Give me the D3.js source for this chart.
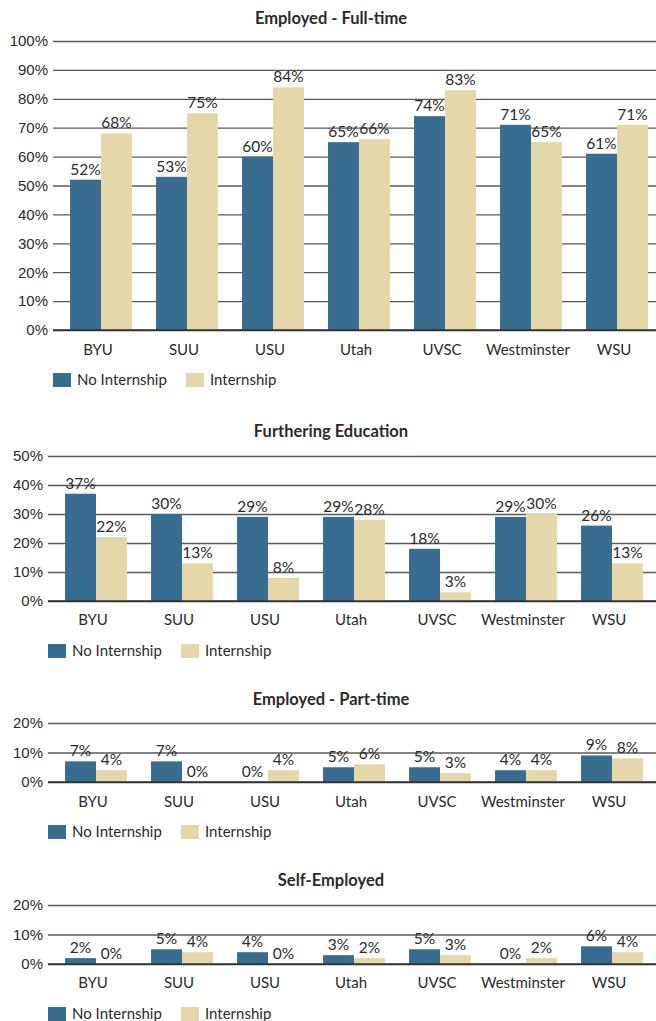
<!DOCTYPE html>
<html>
<head>
<meta charset="utf-8">
<script src="https://cdn.jsdelivr.net/npm/d3@7"></script>
<style>
    body { margin: 0; background: #fff; }
    svg { display: block; font-family: Lato, 'Open Sans', sans-serif; }
</style>
</head>
<body>
<div id="charts"></div>
<script>
const categories = ['BYU', 'SUU', 'USU', 'Utah', 'UVSC', 'Westminster', 'WSU']
const seriesNames = ['No Internship', 'Internship']

const fullTimeNo = [52, 53, 60, 65, 74, 71, 61]
const fullTimeYes = [68, 75, 84, 66, 83, 65, 71]
const furtherNo = [37, 30, 29, 29, 18, 29, 26]
const furtherYes = [22, 13, 8, 28, 3, 30, 13]
const partTimeNo = [7, 7, 0, 5, 5, 4, 9]
const partTimeYes = [4, 0, 4, 6, 3, 4, 8]
const selfNo = [2, 5, 4, 3, 5, 0, 6]
const selfYes = [0, 4, 0, 2, 3, 2, 4]

const ticksFull = [0, 10, 20, 30, 40, 50, 60, 70, 80, 90, 100]
const ticksFurther = [0, 10, 20, 30, 40, 50]
const ticksSmall = [0, 10, 20]

const colors = ['#386d8f', '#e4d8aa']
const textColor = '#2b2b2b'

const width = 656
const height = 1021

const svg = d3.select('#charts').append('svg')
    .attr('width', width).attr('height', height)

const charts = [
    { title: 'Employed - Full-time', no: fullTimeNo, yes: fullTimeYes, ticks: ticksFull,
        titleY: 24, top: 41, bottom: 330, left: 53, xStart: 58, catY: 355, legendY: 373 },
    { title: 'Furthering Education', no: furtherNo, yes: furtherYes, ticks: ticksFurther,
        titleY: 437, top: 456, bottom: 601, left: 48, xStart: 53, catY: 625, legendY: 644 },
    { title: 'Employed - Part-time', no: partTimeNo, yes: partTimeYes, ticks: ticksSmall,
        titleY: 705, top: 723, bottom: 782, left: 48, xStart: 53, catY: 807, legendY: 825 },
    { title: 'Self-Employed', no: selfNo, yes: selfYes, ticks: ticksSmall,
        titleY: 886, top: 905, bottom: 964, left: 48, xStart: 53, catY: 988, legendY: 1007 }
]

charts.forEach(drawChart)

function drawChart(c) {
    const g = svg.append('g')
    const maxTick = d3.max(c.ticks)

    const y = d3.scaleLinear().domain([0, maxTick]).range([c.bottom, c.top])
    const x = d3.scaleBand().domain(categories)
        .range([c.xStart, c.xStart + 86 * categories.length])
        .paddingInner(0.28).paddingOuter(0.14)
    const x1 = d3.scaleBand().domain(seriesNames).range([0, x.bandwidth()])

    g.append('text')
        .attr('x', 331).attr('y', c.titleY)
        .attr('text-anchor', 'middle')
        .style('font-size', '16.5px').style('font-weight', 'bold')
        .style('fill', textColor)
        .text(c.title)

    // gridlines + tick labels
    const yAxis = g.append('g')
        .attr('transform', `translate(${c.left},0)`)
        .call(d3.axisLeft(y).tickValues(c.ticks)
            .tickSize(-(width - c.left)).tickPadding(5)
            .tickFormat(d => d + '%'))
    yAxis.select('.domain').remove()
    yAxis.selectAll('.tick line')
        .attr('stroke', d => d == 0 ? '#333' : '#5a5a5a')
        .attr('stroke-width', d => d == 0 ? 1.6 : 1.3)
    yAxis.selectAll('.tick text')
        .style('font-size', '15px').style('fill', textColor)

    const rows = categories.map((cat, i) => ({ cat: cat, vals: [c.no[i], c.yes[i]] }))

    const groups = g.selectAll('.group')
        .data(rows)
        .join('g').attr('class', 'group')
        .attr('transform', d => `translate(${x(d.cat)},0)`)

    groups.selectAll('rect')
        .data(d => d.vals.map((v, j) => ({ key: seriesNames[j], v: v, j: j })))
        .join('rect')
        .attr('x', d => x1(d.key))
        .attr('width', x1.bandwidth())
        .attr('y', d => y(d.v))
        .attr('height', d => c.bottom - y(d.v))
        .attr('fill', d => colors[d.j])

    // redraw baseline above bars
    g.append('line')
        .attr('x1', c.left).attr('x2', width)
        .attr('y1', c.bottom).attr('y2', c.bottom)
        .attr('stroke', '#333').attr('stroke-width', 1.6)

    groups.selectAll('.val')
        .data(d => d.vals.map((v, j) => ({ key: seriesNames[j], v: v, j: j })))
        .join('text').attr('class', 'val')
        .attr('x', d => x1(d.key) + x1.bandwidth() / 2)
        .attr('y', d => y(d.v) - 5)
        .attr('text-anchor', 'middle')
        .style('font-size', '15.5px').style('fill', textColor)
        .text(d => d.v + '%')

    g.selectAll('.cat')
        .data(categories)
        .join('text').attr('class', 'cat')
        .attr('x', d => x(d) + x.bandwidth() / 2 - 3)
        .attr('y', c.catY)
        .attr('text-anchor', 'middle')
        .style('font-size', '15px').style('fill', textColor)
        .text(d => d)

    const legend = g.selectAll('.legend')
        .data(seriesNames)
        .join('g').attr('class', 'legend')
        .attr('transform', (d, i) => `translate(${c.left + i * 133},${c.legendY})`)
    legend.append('rect')
        .attr('width', 18).attr('height', 14)
        .attr('fill', (d, i) => colors[i])
    legend.append('text')
        .attr('x', 24).attr('y', 12)
        .style('font-size', '15px').style('fill', textColor)
        .text(d => d)
}
</script>
</body>
</html>
